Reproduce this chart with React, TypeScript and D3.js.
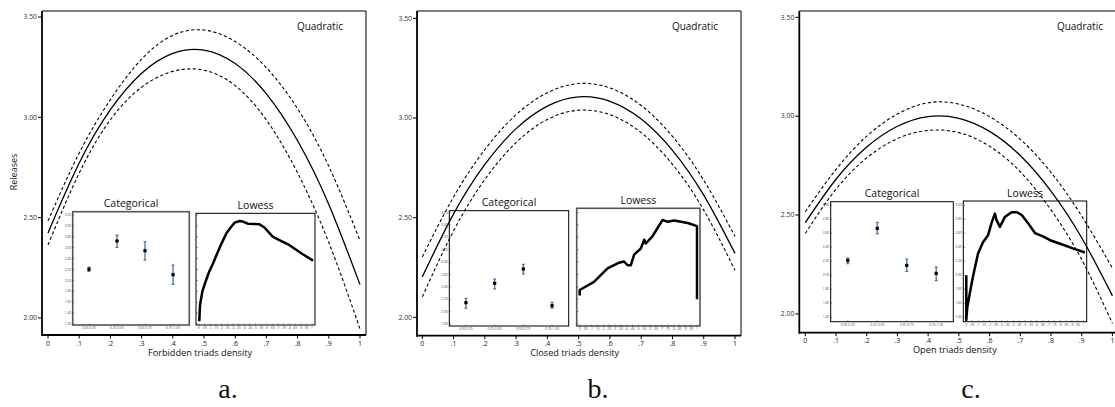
import React from "react";
import * as d3 from "d3";

// ---------- DATA ----------
const xGrid = [0, 0.1, 0.2, 0.3, 0.4, 0.5, 0.6, 0.7, 0.8, 0.9, 1.0];

const quadFitA = [2.424, 2.772, 3.038, 3.22, 3.319, 3.335, 3.268, 3.117, 2.883, 2.566, 2.166];
const quadUpperA = [2.484, 2.822, 3.088, 3.29, 3.409, 3.435, 3.378, 3.247, 3.043, 2.756, 2.386];
const quadLowerA = [2.364, 2.722, 2.988, 3.15, 3.229, 3.235, 3.158, 2.987, 2.723, 2.376, 1.946];

const quadFitB = [2.203, 2.519, 2.767, 2.947, 3.06, 3.106, 3.084, 2.995, 2.838, 2.613, 2.321];
const quadUpperB = [2.303, 2.604, 2.842, 3.017, 3.127, 3.173, 3.151, 3.063, 2.908, 2.688, 2.406];
const quadLowerB = [2.103, 2.434, 2.692, 2.877, 2.993, 3.039, 3.017, 2.927, 2.768, 2.538, 2.236];

const quadFitC = [2.462, 2.681, 2.844, 2.949, 2.998, 2.989, 2.923, 2.801, 2.621, 2.385, 2.092];
const quadUpperC = [2.517, 2.731, 2.899, 3.011, 3.068, 3.061, 2.998, 2.883, 2.716, 2.495, 2.232];
const quadLowerC = [2.407, 2.631, 2.789, 2.887, 2.928, 2.917, 2.848, 2.719, 2.526, 2.275, 1.952];

const categories = ["0.00-0.25", "0.25-0.50", "0.50-0.75", "0.75-1.00"];
const catMeanA = [2.204, 2.723, 2.545, 2.105];
const catLoA = [2.167, 2.607, 2.374, 1.928];
const catHiA = [2.246, 2.833, 2.71, 2.283];
const catMeanB = [2.145, 2.458, 2.689, 2.097];
const catLoB = [2.055, 2.366, 2.608, 2.055];
const catHiB = [2.216, 2.527, 2.765, 2.152];
const catMeanC = [2.211, 2.669, 2.14, 2.026];
const catLoC = [2.164, 2.589, 2.054, 1.921];
const catHiC = [2.246, 2.754, 2.231, 2.117];

const lowessXA = [0.003, 0.009, 0.03, 0.053, 0.09, 0.125, 0.155, 0.2, 0.243, 0.28, 0.316, 0.36, 0.377, 0.435, 0.535, 0.579, 0.652, 0.72, 0.798, 0.915, 1.0];
const lowessYA = [1.273, 1.549, 1.8, 1.947, 2.16, 2.314, 2.466, 2.68, 2.864, 2.97, 3.059, 3.09, 3.086, 3.04, 3.03, 2.97, 2.802, 2.73, 2.65, 2.484, 2.374];

const lowessXB = [0.0, 0.0, 0.122, 0.237, 0.336, 0.376, 0.408, 0.436, 0.464, 0.521, 0.55, 0.564, 0.621, 0.664, 0.707, 0.75, 0.806, 0.921, 1.0, 1.0];
const lowessYB = [2.28, 2.35, 2.48, 2.7, 2.79, 2.81, 2.75, 2.75, 2.92, 3.02, 3.16, 3.1, 3.22, 3.35, 3.48, 3.45, 3.47, 3.43, 3.38, 2.22];

const lowessXC = [0.0, 0.0, 0.009, 0.043, 0.057, 0.1, 0.142, 0.185, 0.214, 0.243, 0.257, 0.286, 0.328, 0.386, 0.429, 0.472, 0.528, 0.586, 0.657, 0.714, 0.8, 0.914, 1.0];
const lowessYC = [1.98, 1.36, 1.55, 1.86, 1.98, 2.31, 2.47, 2.57, 2.74, 2.88, 2.79, 2.69, 2.83, 2.9, 2.9, 2.86, 2.74, 2.6, 2.55, 2.5, 2.45, 2.38, 2.33];

const mainXTickLabels = ["0", ".1", ".2", ".3", ".4", ".5", ".6", ".7", ".8", ".9", "1"];
const mainYTicks = [2.0, 2.5, 3.0, 3.5];
const mainYTickLabels = ["2.00", "2.50", "3.00", "3.50"];
const lowessXTicks = [0, 0.05, 0.1, 0.15, 0.2, 0.25, 0.3, 0.35, 0.4, 0.45, 0.5, 0.55, 0.6, 0.65, 0.7, 0.75, 0.8, 0.85, 0.9, 0.95, 1];
const lowessXTickLabels = ["0", ".05", ".1", ".15", ".2", ".25", ".3", ".35", ".4", ".45", ".5", ".55", ".6", ".65", ".7", ".75", ".8", ".85", ".9", ".95", "1"];
const insetTicksA = [1.2, 1.4, 1.6, 1.8, 2.0, 2.2, 2.4, 2.6, 2.8, 3.0, 3.2];
const insetTicksB = [1.8, 2.0, 2.2, 2.4, 2.6, 2.8, 3.0, 3.2, 3.4, 3.6];
const insetTicksC = [1.4, 1.6, 1.8, 2.0, 2.2, 2.4, 2.6, 2.8, 3.0];

const xTitles = ["Forbidden triads density", "Closed triads density", "Open triads density"];
const panelLetters = ["a.", "b.", "c."];
const yTitle = "Releases";
const fitLabel = "Quadratic";
const catTitle = "Categorical";
const lowTitle = "Lowess";

const panelData = [
  { fit: quadFitA, upper: quadUpperA, lower: quadLowerA, mean: catMeanA, lo: catLoA, hi: catHiA, lx: lowessXA, ly: lowessYA, ticks: insetTicksA },
  { fit: quadFitB, upper: quadUpperB, lower: quadLowerB, mean: catMeanB, lo: catLoB, hi: catHiB, lx: lowessXB, ly: lowessYB, ticks: insetTicksB },
  { fit: quadFitC, upper: quadUpperC, lower: quadLowerC, mean: catMeanC, lo: catLoC, hi: catHiC, lx: lowessXC, ly: lowessYC, ticks: insetTicksC },
];

// ---------- LAYOUT ----------
const LAYOUT = [
  {
    left: 42, right: 366, top: 11, bottom: 335, xr: [48, 360], yd: [1.915, 3.53], letterX: 228,
    cat: { x0: 72.7, y0: 211.7, x1: 189.3, y1: 325, d: [1.182, 3.261], stroke: "#555", sw: 1.6 },
    low: { x0: 196, y0: 213.3, x1: 315, y1: 325, d: [1.182, 3.231], stroke: "#000", sw: 1, labels: false },
  },
  {
    left: 417, right: 741, top: 11, bottom: 335.7, xr: [422.3, 735], yd: [1.908, 3.537], letterX: 598,
    cat: { x0: 449.3, y0: 210.7, x1: 568.7, y1: 326, d: [1.769, 3.629], stroke: "#000", sw: 1 },
    low: { x0: 576.7, y0: 208.3, x1: 700, y1: 326, d: [1.769, 3.668], stroke: "#555", sw: 1.6, labels: false },
  },
  {
    left: 799.3, right: 1126, top: 11, bottom: 332.7, xr: [805.3, 1112.4], yd: [1.905, 3.532], letterX: 971,
    cat: { x0: 830.7, y0: 201.7, x1: 953.3, y1: 321.7, d: [1.336, 3.05], stroke: "#000", sw: 1 },
    low: { x0: 963.3, y0: 201, x1: 1086.7, y1: 321.7, d: [1.336, 3.06], stroke: "#000", sw: 1, labels: true },
  },
];

const FONT = "'Open Sans', 'Noto Sans', sans-serif";
const TINY = 3.3;

function Panel({ L, D, idx }: any) {
  const x = d3.scaleLinear().domain([0, 1]).range(L.xr);
  const y = d3.scaleLinear().domain(L.yd).range([L.bottom, L.top]);
  const line = (vals: number[]) =>
    d3.line<number>().x((_, i) => x(xGrid[i])).y((v) => y(v)).curve(d3.curveNatural)(vals) || "";

  const c = L.cat;
  const cx = d3.scalePoint<string>().domain(categories).range([c.x0, c.x1]).padding(0.58);
  const cy = d3.scaleLinear().domain(c.d).range([c.y1, c.y0]);
  const w = L.low;
  const lx = d3.scaleLinear().domain([0, 1]).range([w.x0 + 3, w.x1 - 3]);
  const ly = d3.scaleLinear().domain(w.d).range([w.y1, w.y0]);
  const lowPath =
    d3.line<number>().x((v) => lx(v)).y((_, i) => ly(D.ly[i])).curve(d3.curveLinear)(D.lx) || "";

  const clipId = `clip${idx}`;
  return (
    <g>
      <defs>
        <clipPath id={clipId}>
          <rect x={L.left} y={L.top} width={L.right - L.left} height={L.bottom - L.top + 2} />
        </clipPath>
      </defs>
      <line x1={L.left} x2={L.right} y1={L.top} y2={L.top} stroke="#000" strokeWidth={1} />
      <line x1={L.right} x2={L.right} y1={L.top} y2={L.bottom} stroke="#000" strokeWidth={1} />
      <line x1={L.left} x2={L.left} y1={L.top} y2={L.bottom + 1} stroke="#000" strokeWidth={1.8} />
      <line x1={L.left} x2={L.right} y1={L.bottom} y2={L.bottom} stroke="#000" strokeWidth={1.8} />
      {mainYTicks.map((t, i) => (
        <g key={"yt" + i}>
          <line x1={L.left - 4} x2={L.left} y1={y(t)} y2={y(t)} stroke="#000" strokeWidth={1} />
          <text x={L.left - 5} y={y(t) + 2.3} fontSize={6.8} textAnchor="end" fill="#333" fontFamily={FONT}>
            {mainYTickLabels[i]}
          </text>
        </g>
      ))}
      {xGrid.map((t, i) => (
        <g key={"xt" + i}>
          <line x1={x(t)} x2={x(t)} y1={L.bottom} y2={L.bottom + 3.5} stroke="#000" strokeWidth={1} />
          <text x={x(t)} y={L.bottom + 10.5} fontSize={7} textAnchor="middle" fill="#222" fontFamily={FONT}>
            {mainXTickLabels[i]}
          </text>
        </g>
      ))}
      <text x={x(0.5) - 4} y={L.bottom + 20.5} fontSize={9.2} textAnchor="middle" fill="#111" fontFamily={FONT}>
        {xTitles[idx]}
      </text>
      <text x={L.letterX} y={398} fontSize={28} textAnchor="middle" fill="#111" fontFamily="'Liberation Serif', serif">
        {panelLetters[idx]}
      </text>
      {idx === 0 && (
        <text
          transform={`translate(${L.left - 25},${(L.top + L.bottom) / 2 - 1}) rotate(-90)`}
          fontSize={9} textAnchor="middle" fill="#222" fontFamily={FONT}
        >
          {yTitle}
        </text>
      )}
      <text x={L.right - 23} y={30} fontSize={10} textAnchor="end" fill="#111" fontFamily={FONT}>
        {fitLabel}
      </text>
      <g clipPath={`url(#${clipId})`}>
        <path d={line(D.upper)} fill="none" stroke="#000" strokeWidth={1.1} strokeDasharray="3.2,2.4" />
        <path d={line(D.lower)} fill="none" stroke="#000" strokeWidth={1.1} strokeDasharray="3.2,2.4" />
        <path d={line(D.fit)} fill="none" stroke="#000" strokeWidth={1.3} />
      </g>

      <rect x={c.x0} y={c.y0} width={c.x1 - c.x0} height={c.y1 - c.y0} fill="none" stroke={c.stroke} strokeWidth={c.sw} />
      <text x={(c.x0 + c.x1) / 2} y={c.y0 - 4.5} fontSize={10.5} textAnchor="middle" fill="#111" fontFamily={FONT}>
        {catTitle}
      </text>
      {D.ticks.map((t: number, i: number) => (
        <g key={"ct" + i}>
          <line x1={c.x0} x2={c.x0 + 1.5} y1={cy(t)} y2={cy(t)} stroke="#333" strokeWidth={0.5} />
          <text x={c.x0 - 1.5} y={cy(t) + 1.1} fontSize={TINY} textAnchor="end" fill="#444" fontFamily={FONT}>
            {t.toFixed(2)}
          </text>
        </g>
      ))}
      {categories.map((k, i) => (
        <g key={"cc" + i}>
          <line x1={cx(k)!} x2={cx(k)!} y1={c.y1} y2={c.y1 - 1.5} stroke="#333" strokeWidth={0.5} />
          <text x={cx(k)!} y={c.y1 + 4.2} fontSize={TINY} textAnchor="middle" fill="#444" fontFamily={FONT}>
            {k}
          </text>
          <line x1={cx(k)!} x2={cx(k)!} y1={cy(D.lo[i])} y2={cy(D.hi[i])} stroke="#4f7fae" strokeWidth={1.4} />
          <line x1={cx(k)! - 1.5} x2={cx(k)! + 1.5} y1={cy(D.lo[i])} y2={cy(D.lo[i])} stroke="#1f3f66" strokeWidth={0.8} />
          <line x1={cx(k)! - 1.5} x2={cx(k)! + 1.5} y1={cy(D.hi[i])} y2={cy(D.hi[i])} stroke="#1f3f66" strokeWidth={0.8} />
          <rect x={cx(k)! - 1.6} y={cy(D.mean[i]) - 1.6} width={3.2} height={3.2} fill="#000" />
        </g>
      ))}

      <rect x={w.x0} y={w.y0} width={w.x1 - w.x0} height={w.y1 - w.y0} fill="none" stroke={w.stroke} strokeWidth={w.sw} />
      <text x={(w.x0 + w.x1) / 2} y={w.y0 - 4} fontSize={10.5} textAnchor="middle" fill="#111" fontFamily={FONT}>
        {lowTitle}
      </text>
      {D.ticks.map((t: number, i: number) => (
        <g key={"lt" + i}>
          <line x1={w.x0} x2={w.x0 + 1.8} y1={ly(t)} y2={ly(t)} stroke="#333" strokeWidth={0.6} />
          {w.labels && (
            <text x={w.x0 - 1.5} y={ly(t) + 1.1} fontSize={TINY} textAnchor="end" fill="#444" fontFamily={FONT}>
              {t.toFixed(2)}
            </text>
          )}
        </g>
      ))}
      {lowessXTicks.map((t, i) => (
        <g key={"lx" + i}>
          <line x1={lx(t)} x2={lx(t)} y1={w.y1} y2={w.y1 - 1.5} stroke="#333" strokeWidth={0.5} />
          <text x={lx(t)} y={w.y1 + 4.2} fontSize={TINY} textAnchor="middle" fill="#444" fontFamily={FONT}>
            {lowessXTickLabels[i]}
          </text>
        </g>
      ))}
      <path d={lowPath} fill="none" stroke="#000" strokeWidth={2.5} strokeLinejoin="round" strokeLinecap="square" />
    </g>
  );
}

export default function App() {
  return (
    <svg width={1115} height={407} style={{ position: "absolute", left: 0, top: 0, background: "#fff" }}>
      <rect x={0} y={0} width={1115} height={407} fill="#fff" />
      {LAYOUT.map((L, i) => (
        <Panel key={i} L={L} D={panelData[i]} idx={i} />
      ))}
    </svg>
  );
}
